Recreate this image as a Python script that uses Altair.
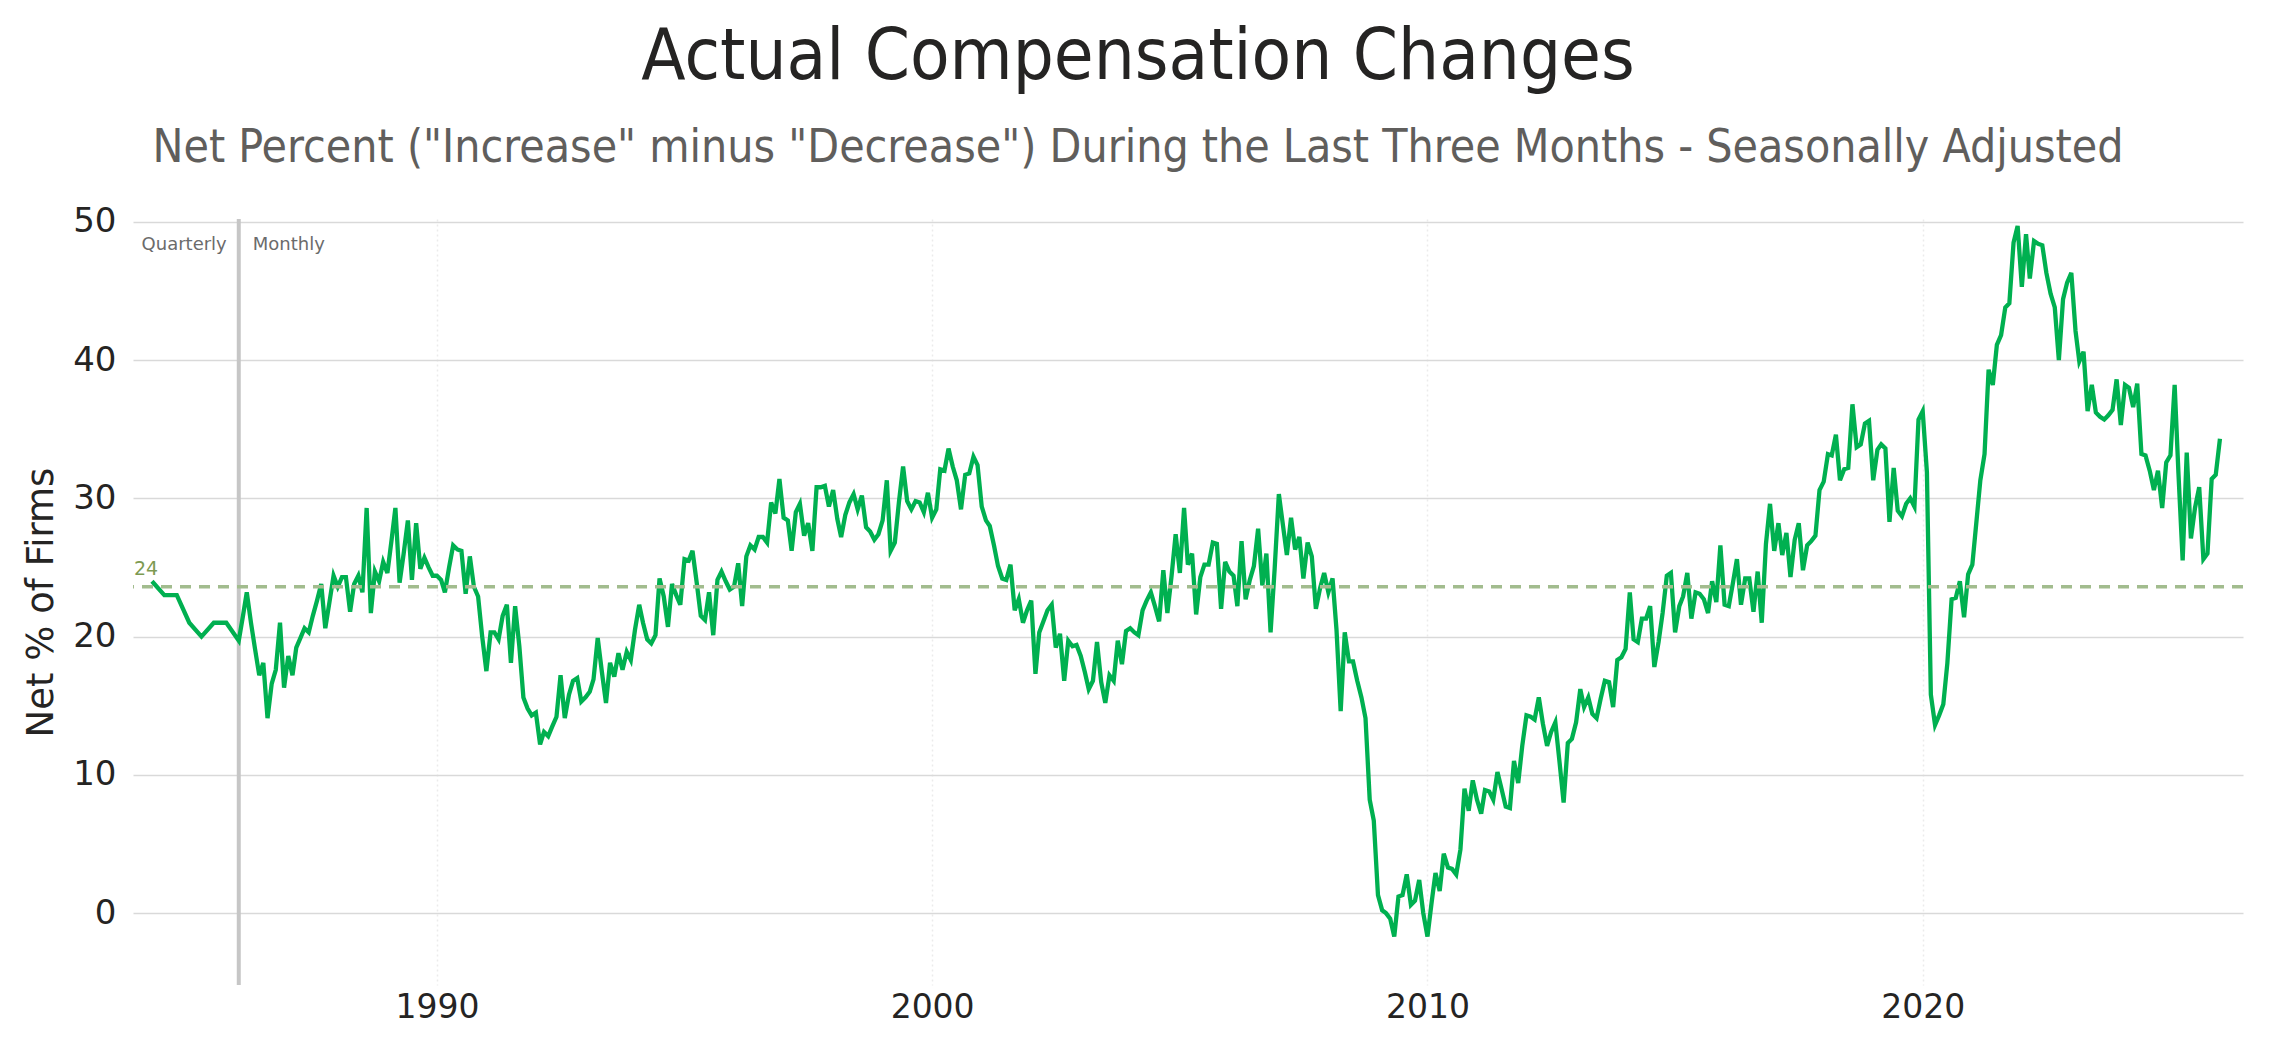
import altair as alt
import pandas as pd

# ---------------- data ----------------
quarter_dates = ["1984-04-01", "1984-07-01", "1984-10-01", "1985-01-01",
                 "1985-04-01", "1985-07-01", "1985-10-01"]
quarter_values = [24, 23, 23, 21, 20, 21, 21]

monthly_start = "1986-01-01"
monthly_1986_1995 = [
    19.7, 21.5, 23.2, 21.0, 19.1, 17.2, 18.1, 14.1, 16.6, 17.6,
    21.0, 16.3, 18.6, 17.2, 19.2, 19.9, 20.6, 20.3, 21.5, 22.6,
    23.8, 20.6, 22.5, 24.4, 23.6, 24.3, 24.3, 21.8, 23.8, 24.4,
    23.2, 29.3, 21.7, 24.7, 24.0, 25.4, 24.6, 27.0, 29.3, 23.9,
    26.0, 28.4, 24.1, 28.2, 24.9, 25.7, 25.0, 24.4, 24.4, 24.1,
    23.2, 25.0, 26.6, 26.3, 26.2, 23.1, 25.8, 23.6, 22.9, 20.0,
    17.5, 20.3, 20.3, 19.8, 21.5, 22.3, 18.1, 22.2, 19.3, 15.6,
    14.8, 14.3, 14.5, 12.2, 13.1, 12.8, 13.5, 14.2, 17.2, 14.1,
    15.8, 16.8, 17.0, 15.3, 15.6, 16.0, 16.9, 19.9, 17.5, 15.2,
    18.1, 17.1, 18.8, 17.6, 18.9, 18.3, 20.5, 22.3, 21.0, 19.8,
    19.5, 20.1, 24.2, 22.9, 20.7, 23.8, 23.0, 22.3, 25.6, 25.5,
    26.2, 23.9, 21.5, 21.2, 23.2, 20.1, 24.1, 24.7, 24.0, 23.4,
]
monthly_1996_2005 = [
    23.6, 25.3, 22.2, 25.8, 26.6, 26.3, 27.2, 27.2, 26.8, 29.7,
    28.9, 31.4, 28.6, 28.4, 26.2, 29.0, 29.6, 27.3, 28.2, 26.2,
    30.8, 30.8, 30.9, 29.4, 30.6, 28.5, 27.2, 28.8, 29.7, 30.3,
    29.2, 30.2, 27.9, 27.6, 27.0, 27.4, 28.4, 31.3, 26.2, 26.8,
    29.7, 32.3, 29.8, 29.2, 29.8, 29.7, 29.0, 30.4, 28.6, 29.2,
    32.1, 32.0, 33.6, 32.3, 31.3, 29.2, 31.7, 31.8, 33.0, 32.4,
    29.4, 28.4, 28.0, 26.6, 25.1, 24.2, 24.1, 25.2, 21.9, 22.7,
    21.0, 21.9, 22.6, 17.3, 20.3, 21.1, 21.9, 22.3, 19.2, 20.2,
    16.8, 19.7, 19.3, 19.4, 18.6, 17.4, 16.2, 16.8, 19.6, 16.7,
    15.2, 17.2, 16.8, 19.7, 18.0, 20.4, 20.6, 20.3, 20.1, 21.9,
    22.6, 23.2, 22.2, 21.1, 24.8, 21.7, 24.4, 27.4, 24.6, 29.3,
    25.2, 26.0, 21.6, 24.3, 25.2, 25.2, 26.8, 26.7, 22.0, 25.4,
]
monthly_2006_2015 = [
    24.7, 24.4, 22.2, 26.9, 22.7, 24.1, 25.1, 27.8, 23.7, 26.0,
    20.3, 24.9, 30.3, 28.0, 25.9, 28.6, 26.3, 27.2, 24.2, 26.8,
    25.8, 22.0, 23.5, 24.6, 23.2, 24.2, 20.5, 14.6, 20.3, 18.2,
    18.2, 16.8, 15.6, 14.1, 8.2, 6.7, 1.3, 0.2, 0.0, -0.4,
    -1.7, 1.2, 1.3, 2.8, 0.6, 0.9, 2.4, 0.0, -1.7, 0.8,
    2.9, 1.6, 4.3, 3.3, 3.2, 2.8, 4.6, 9.0, 7.4, 9.6,
    8.2, 7.2, 8.9, 8.8, 8.2, 10.2, 9.0, 7.7, 7.6, 11.0,
    9.4, 12.1, 14.3, 14.2, 14.0, 15.6, 13.7, 12.1, 13.1, 13.8,
    10.9, 8.0, 12.3, 12.6, 13.8, 16.2, 14.9, 15.6, 14.4, 14.1,
    15.5, 16.8, 16.7, 14.9, 18.3, 18.5, 19.1, 23.2, 19.8, 19.6,
    21.3, 21.3, 22.2, 17.8, 19.6, 21.7, 24.4, 24.6, 20.3, 22.2,
    22.9, 24.6, 21.3, 23.2, 23.1, 22.7, 21.7, 24.0, 22.5, 26.6,
]
monthly_2016_2026 = [
    22.3, 22.2, 23.8, 25.6, 22.3, 24.2, 24.2, 21.8, 24.7, 21.0,
    26.7, 29.6, 26.2, 28.2, 25.9, 27.5, 24.3, 27.0, 28.2, 24.8,
    26.6, 26.9, 27.3, 30.6, 31.2, 33.2, 33.1, 34.6, 31.3, 32.1,
    32.2, 36.8, 33.7, 33.9, 35.4, 35.6, 31.3, 33.5, 33.9, 33.6,
    28.3, 32.2, 29.1, 28.7, 29.6, 30.0, 29.4, 35.7, 36.3, 31.9,
    15.8, 13.6, 14.3, 15.1, 18.1, 22.7, 22.8, 24.0, 21.4, 24.5,
    25.2, 28.4, 31.3, 33.2, 39.3, 38.2, 41.1, 41.8, 43.8, 44.1,
    48.5, 49.7, 45.3, 49.1, 45.9, 48.6, 48.4, 48.3, 46.3, 44.8,
    43.8, 40.0, 44.4, 45.6, 46.3, 42.1, 39.9, 40.6, 36.3, 38.2,
    36.2, 35.9, 35.7, 36.0, 36.4, 38.6, 35.3, 38.2, 38.0, 36.6,
    38.3, 33.2, 33.1, 32.0, 30.6, 32.0, 29.3, 32.6, 33.1, 38.2,
    31.8, 25.5, 33.3, 27.1, 29.3, 30.8, 25.6, 26.0, 31.4, 31.7,
    34.3,
]
monthly_values = monthly_1986_1995 + monthly_1996_2005 + monthly_2006_2015 + monthly_2016_2026

average_value = 23.6
average_label = "24"
split_date = "1986-01-01"
split_labels = ["Quarterly", "Monthly"]
year_ticks = [1990, 2000, 2010, 2020]
y_ticks = [0, 10, 20, 30, 40, 50]

title_text = "Actual Compensation Changes"
subtitle_text = 'Net Percent ("Increase" minus "Decrease") During the Last Three Months - Seasonally Adjusted'
y_title = "Net % of Firms"

# ---------------- tables ----------------
monthly_dates = [d.strftime("%Y-%m-%d") for d in
                 pd.date_range(monthly_start, periods=len(monthly_values), freq="MS")]
df = pd.DataFrame({"date": quarter_dates + monthly_dates,
                   "value": quarter_values + monthly_values})
avg_df = pd.DataFrame({"avg": [average_value], "label": [average_label]})
split_df = pd.DataFrame({"date": [split_date], "ypos": [48.3],
                         "left": [split_labels[0]], "right": [split_labels[1]]})

FONT = "DejaVu Sans"
COND = "'DejaVu Sans Condensed', 'DejaVu Sans', sans-serif"

x_scale = alt.Scale(domain=[alt.DateTime(year=1983, month=11, date=13),
                            alt.DateTime(year=2026, month=6, date=20)])
y_scale = alt.Scale(domain=[-5.2, 50.2], nice=False, zero=False)

x_axis = alt.Axis(values=[alt.DateTime(year=y, month=1, date=1) for y in year_ticks],
                  format="%Y", title=None, labelFont=FONT, labelFontSize=33,
                  labelColor="#252423", labelPadding=6, domain=False, ticks=False,
                  grid=True, gridColor="#ebebeb", gridDash=[2, 3], gridWidth=1.5)
y_axis = alt.Axis(values=y_ticks, title=y_title, titleFont=FONT, titleFontSize=37,
                  titleFontWeight="normal", titleColor="#252423", titlePadding=12,
                  labelFont=FONT, labelFontSize=34, labelColor="#252423",
                  labelPadding=17, domain=False, ticks=False,
                  grid=True, gridColor="#d9d9d9", gridWidth=1.5)

base = alt.Chart(df)

line = base.mark_line(color="#00b050", strokeWidth=4.3).encode(
    x=alt.X("date:T", scale=x_scale, axis=x_axis),
    y=alt.Y("value:Q", scale=y_scale, axis=y_axis),
)

separator = alt.Chart(split_df).mark_rule(color="#c6c6c6", strokeWidth=4).encode(
    x=alt.X("date:T", scale=x_scale)
)
left_txt = alt.Chart(split_df).mark_text(
    align="right", baseline="middle", dx=-12, font=FONT, fontSize=18, color="#6b6b6b"
).encode(x=alt.X("date:T", scale=x_scale), y=alt.Y("ypos:Q", scale=y_scale), text="left:N")
right_txt = alt.Chart(split_df).mark_text(
    align="left", baseline="middle", dx=14, font=FONT, fontSize=18, color="#6b6b6b"
).encode(x=alt.X("date:T", scale=x_scale), y=alt.Y("ypos:Q", scale=y_scale), text="right:N")

avg_rule = alt.Chart(avg_df).mark_rule(
    color="#a2bc8e", strokeWidth=3.5, strokeDash=[11, 8]
).encode(y=alt.Y("avg:Q", scale=y_scale))
avg_txt = alt.Chart(avg_df).mark_text(
    align="left", baseline="bottom", dy=-8, font=FONT, fontSize=19, color="#7d9a52"
).encode(x=alt.value(1), y=alt.Y("avg:Q", scale=y_scale), text="label:N")

chart = alt.layer(separator, line, avg_rule, avg_txt, left_txt, right_txt).properties(
    width=2110,
    height=766,
    background="white",
    padding={"left": 125, "top": 211, "right": 26, "bottom": 50},
    autosize=alt.AutoSizeParams(type="none"),
    title=alt.TitleParams(
        text=title_text, subtitle=subtitle_text, anchor="middle", frame="group",
        dx=-50, offset=33, font=COND, fontSize=72, fontWeight="normal",
        color="#252423", subtitleFont=COND, subtitleFontSize=46,
        subtitleColor="#605e5c", subtitlePadding=32,
    ),
).configure_view(stroke=None)

chart.save("out.html", embed_options={"renderer": "svg", "actions": False})
